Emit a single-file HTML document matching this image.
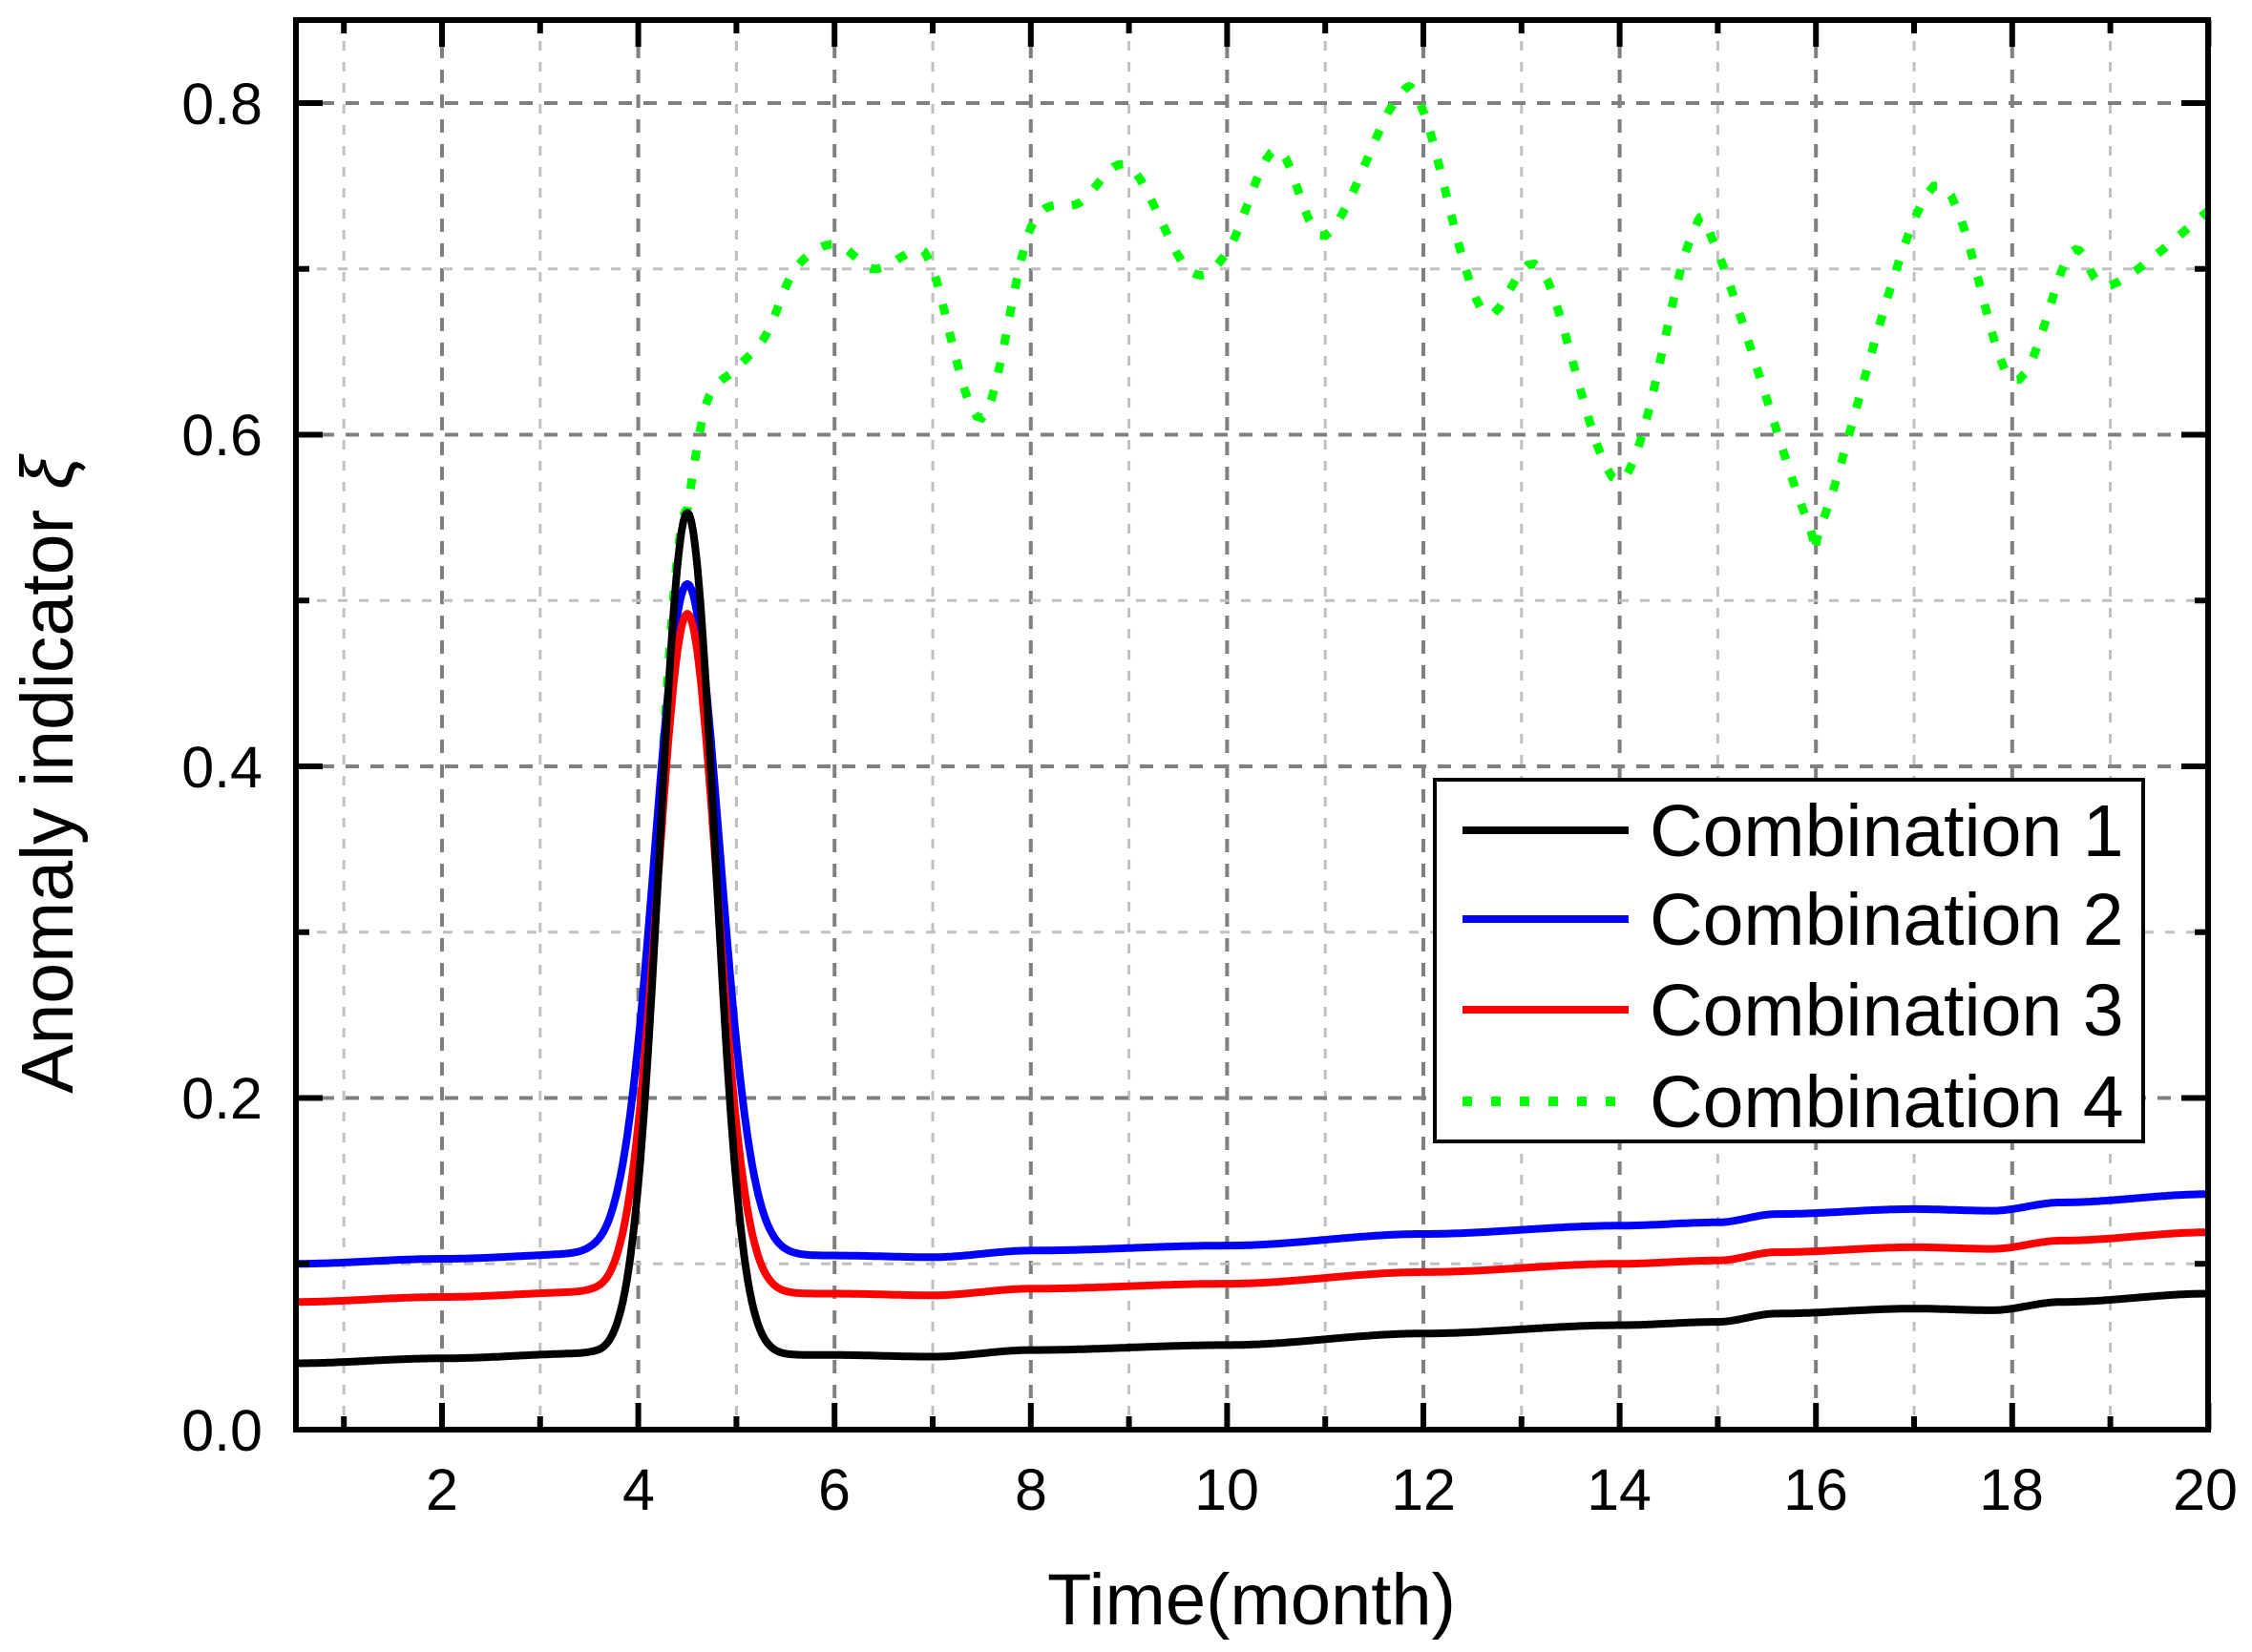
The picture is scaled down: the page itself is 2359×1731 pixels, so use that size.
<!DOCTYPE html>
<html><head><meta charset="utf-8"><style>
html,body{margin:0;padding:0;background:#fff;}
svg{display:block;}
text{font-family:"Liberation Sans",Arial,sans-serif;fill:#000;}
</style></head><body>
<svg id="s" width="2359" height="1731" viewBox="0 0 2359 1731" xmlns="http://www.w3.org/2000/svg">
<rect width="2359" height="1731" fill="#fff"/>
<g id="grid"></g>
<g id="series"></g>
<g id="axes"></g>
<g font-size="61">
<text x="275" y="1520" text-anchor="end">0.0</text>
<text x="275" y="1172" text-anchor="end">0.2</text>
<text x="275" y="825" text-anchor="end">0.4</text>
<text x="275" y="477" text-anchor="end">0.6</text>
<text x="275" y="130" text-anchor="end">0.8</text>
<text x="463" y="1582" text-anchor="middle">2</text>
<text x="669" y="1582" text-anchor="middle">4</text>
<text x="874" y="1582" text-anchor="middle">6</text>
<text x="1080" y="1582" text-anchor="middle">8</text>
<text x="1285" y="1582" text-anchor="middle">10</text>
<text x="1491" y="1582" text-anchor="middle">12</text>
<text x="1696" y="1582" text-anchor="middle">14</text>
<text x="1902" y="1582" text-anchor="middle">16</text>
<text x="2107" y="1582" text-anchor="middle">18</text>
<text x="2310" y="1582" text-anchor="middle">20</text>
</g>
<text x="1311" y="1702" font-size="76" text-anchor="middle">Time(month)</text>
<text transform="translate(76,812) rotate(-90)" font-size="77" text-anchor="middle">Anomaly indicator <tspan font-style="italic">ξ</tspan></text>
<rect x="1503" y="817" width="742" height="379" fill="#fff" stroke="#000" stroke-width="4"/>
<line x1="1532" y1="870" x2="1706" y2="870" stroke="#000" stroke-width="8"/>
<line x1="1532" y1="963" x2="1706" y2="963" stroke="#0000ff" stroke-width="8"/>
<line x1="1532" y1="1058" x2="1706" y2="1058" stroke="#ff0000" stroke-width="8"/>
<line x1="1532" y1="1154" x2="1706" y2="1154" stroke="#00ff00" stroke-width="10" stroke-dasharray="10 20"/>
<g font-size="77">
<text x="1728" y="897">Combination 1</text>
<text x="1728" y="990">Combination 2</text>
<text x="1728" y="1085">Combination 3</text>
<text x="1728" y="1181">Combination 4</text>
</g>
</svg>
<script>
var NS="http://www.w3.org/2000/svg";
function X(x){return 257.4+102.8*x;}
function Y(v){return 1498-1737.5*v;}
var L=310,R=2313,T=21,B=1498;
function el(p,tag,a){var e=document.createElementNS(NS,tag);for(var k in a)e.setAttribute(k,a[k]);p.appendChild(e);return e;}
var g=document.getElementById('grid');
for(var i=1;i<=19;i++){var x=X(i);var maj=i%2==0;
 el(g,'line',{x1:x,y1:T,x2:x,y2:B,stroke:maj?'#808080':'#c0c0c0','stroke-width':maj?4:3,'stroke-dasharray':maj?'14 12':'10 12'});}
for(var j=1;j<=8;j++){var y=Y(j*0.1);var maj=j%2==0;
 el(g,'line',{x1:L,y1:y,x2:R,y2:y,stroke:maj?'#808080':'#c0c0c0','stroke-width':maj?4:3,'stroke-dasharray':maj?'14 12':'10 12'});}
var a=document.getElementById('axes');
el(a,'rect',{x:L,y:T,width:R-L,height:B-T,fill:'none',stroke:'#000','stroke-width':6});
for(var i=1;i<=20;i++){var x=X(i);var len=i%2==0?28:14;
 el(a,'line',{x1:x,y1:B,x2:x,y2:B-len,stroke:'#000','stroke-width':6});
 el(a,'line',{x1:x,y1:T,x2:x,y2:T+len,stroke:'#000','stroke-width':6});}
for(var j=1;j<=8;j++){var y=Y(j*0.1);var len=j%2==0?28:14;
 el(a,'line',{x1:L,y1:y,x2:L+len,y2:y,stroke:'#000','stroke-width':6});
 el(a,'line',{x1:R,y1:y,x2:R-len,y2:y,stroke:'#000','stroke-width':6});}
function interp(k,x){if(x<=k[0][0])return k[0][1];for(var i=0;i<k.length-1;i++){if(x<=k[i+1][0]){var t=(x-k[i][0])/(k[i+1][0]-k[i][0]);t=t*t*(3-2*t);return k[i][1]+(k[i+1][1]-k[i][1])*t;}}return k[k.length-1][1];}
var baseK=[[0.5,0.040],[2,0.043],[3.5,0.046],[3.7,0.045],[5.4,0.045],[6,0.045],[7,0.044],[8,0.048],[10,0.051],[12,0.058],[14,0.063],[15,0.065],[15.6,0.070],[17,0.073],[17.8,0.072],[18.5,0.077],[20,0.082]];
function curve(off,A,s,col){var d='';for(var x=0.52;x<=20;x+=0.02){var v=interp(baseK,x)+off+A*Math.exp(-Math.pow(x-4.5,2)/(2*s*s));d+=(d?'L':'M')+X(x).toFixed(1)+','+Y(v).toFixed(1);}
 el(document.getElementById('series'),'path',{d:d,fill:'none',stroke:col,'stroke-width':8,'stroke-linejoin':'round'});}
var gk=[[4.5,0.555],[4.7,0.62],[5,0.64],[5.3,0.66],[5.6,0.70],[6,0.715],[6.4,0.70],[6.8,0.71],[7.0,0.70],[7.5,0.61],[8,0.725],[8.5,0.74],[9,0.762],[9.6,0.70],[10,0.71],[10.5,0.772],[11,0.72],[11.7,0.80],[12,0.795],[12.6,0.675],[13.2,0.70],[14,0.572],[14.7,0.715],[15,0.71],[15.9,0.55],[16.1,0.553],[17.2,0.75],[18,0.633],[18.6,0.71],[19,0.69],[20,0.735]];
var d='';for(var x=4.0;x<4.5;x+=0.02){var v=0.045+0.51*Math.exp(-Math.pow(x-4.5,2)/(2*0.3*0.3));d+=(d?'L':'M')+X(x).toFixed(1)+','+Y(v).toFixed(1);}
function cr(p0,p1,p2,p3,t){var t2=t*t,t3=t2*t;return 0.5*((2*p1)+(-p0+p2)*t+(2*p0-5*p1+4*p2-p3)*t2+(-p0+3*p1-3*p2+p3)*t3);}
for(var i=0;i<gk.length-1;i++){var p0=gk[Math.max(0,i-1)],p1=gk[i],p2=gk[i+1],p3=gk[Math.min(gk.length-1,i+2)];
 for(var t=0;t<1;t+=0.1){var xx=cr(p0[0],p1[0],p2[0],p3[0],t),vv=cr(p0[1],p1[1],p2[1],p3[1],t);d+='L'+X(xx).toFixed(1)+','+Y(vv).toFixed(1);}}
d+='L'+X(20).toFixed(1)+','+Y(0.735).toFixed(1);
var sg=document.getElementById('series');
el(sg,'path',{d:d,fill:'none',stroke:'#00ff00','stroke-width':9,'stroke-dasharray':'11 19'});
curve(0.060,0.405,0.33,'#0000ff');
curve(0.037,0.410,0.30,'#ff0000');
curve(0,0.508,0.28,'#000000');
</script>
</body></html>
